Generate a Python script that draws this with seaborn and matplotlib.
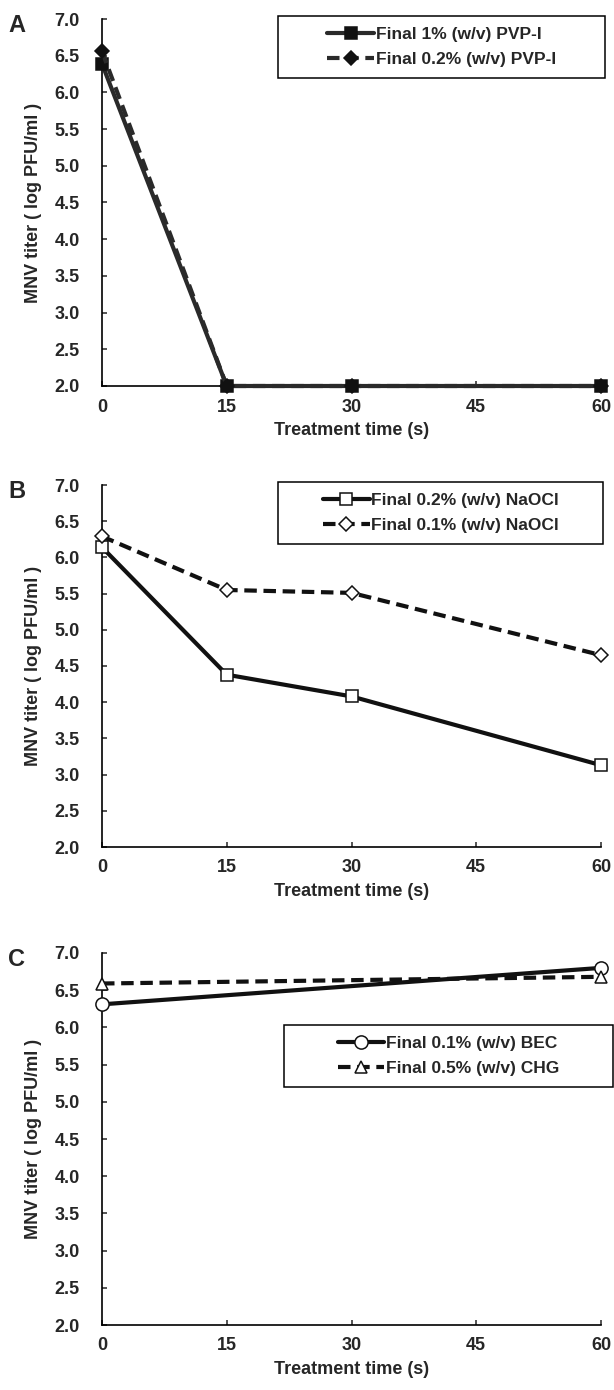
import matplotlib
matplotlib.use("Agg")
import matplotlib.pyplot as plt
from matplotlib.patches import Rectangle
import seaborn as sns

# values (log PFU/ml)
time_a = [0, 15, 30, 60]
pvp_1 = [6.39, 2.0, 2.0, 2.0]
pvp_02 = [6.56, 2.0, 2.0, 2.0]

time_b = [0, 15, 30, 60]
naocl_02 = [6.14, 4.38, 4.08, 3.13]
naocl_01 = [6.29, 5.55, 5.51, 4.65]

time_c = [0, 60]
bec_01 = [6.31, 6.80]
chg_05 = [6.59, 6.68]

x_ticks = [0, 15, 30, 45, 60]
y_ticks = [2.0, 2.5, 3.0, 3.5, 4.0, 4.5, 5.0, 5.5, 6.0, 6.5, 7.0]

sns.set_style("ticks")
plt.rcParams['font.family'] = ['Liberation Sans', 'DejaVu Sans']
plt.rcParams['font.weight'] = 'bold'

fig = plt.figure(figsize=(6.14, 13.9), dpi=100)
W, H = 614, 1390
left, right = 102, 601
dash = (0, (3, 1.6))

# (letter, top px, bottom px, times, series, legend box in axes fraction)
panels = [
    ("A", 19, 386, time_a,
     [(pvp_1, "Final 1% (w/v) PVP-I", "-", "s", "#111111", 8.5, "#2a2a2a"),
      (pvp_02, "Final 0.2% (w/v) PVP-I", dash, "D", "#111111", 7, "#2a2a2a")],
     (0.353, 0.839, 0.655, 0.169)),
    ("B", 485, 847, time_b,
     [(naocl_02, "Final 0.2% (w/v) NaOCl", "-", "s", "white", 9, "#111111"),
      (naocl_01, "Final 0.1% (w/v) NaOCl", dash, "D", "white", 7, "#111111")],
     (0.353, 0.836, 0.652, 0.172)),
    ("C", 953, 1325, time_c,
     [(bec_01, "Final 0.1% (w/v) BEC", "-", "o", "white", 9.5, "#111111"),
      (chg_05, "Final 0.5% (w/v) CHG", dash, "^", "white", 9, "#111111")],
     (0.365, 0.640, 0.659, 0.166)),
]

for letter, top, bottom, t, series, box in panels:
    ax = fig.add_axes([left / W, 1 - bottom / H, (right - left) / W, (bottom - top) / H])
    for vals, label, ls, mk, fc, ms, lc in series:
        sns.lineplot(x=t, y=vals, ax=ax, color=lc, linestyle=ls, linewidth=3.0,
                     marker=mk, markersize=ms, markerfacecolor=fc,
                     markeredgecolor="#111111", markeredgewidth=1.1,
                     label=label, clip_on=False, zorder=3)
    ax.set_xlim(0, 60)
    ax.set_ylim(2.0, 7.0)
    ax.set_xticks(x_ticks)
    ax.set_yticks(y_ticks)
    ax.set_yticklabels([f"{v:.1f}" for v in y_ticks])
    ax.tick_params(axis="both", direction="in", length=3.5, width=1.1, labelsize=13)
    ax.tick_params(axis="y", pad=16)
    ax.tick_params(axis="x", pad=9)
    for s in ["top", "right"]:
        ax.spines[s].set_visible(False)
    for s in ["left", "bottom"]:
        ax.spines[s].set_linewidth(1.2)
        ax.spines[s].set_color("black")
    ax.set_xlabel("Treatment time (s)", fontsize=13, fontweight="bold", labelpad=5)
    ax.set_ylabel("MNV titer ( log PFU/ml )", fontsize=13, fontweight="bold", labelpad=9)

    bx, by, bw, bh = box
    ax.add_patch(Rectangle((bx, by), bw, bh, transform=ax.transAxes, fill=True,
                           facecolor="white", edgecolor="black", linewidth=1.1,
                           clip_on=False, zorder=5))
    leg = ax.legend(loc="center", bbox_to_anchor=(bx + bw / 2, by + bh / 2),
                    fontsize=12.5, frameon=False, handlelength=2.7,
                    handletextpad=0.1, labelspacing=0.55, borderpad=0)
    leg.set_zorder(6)
    for txt in leg.get_texts():
        txt.set_fontweight("bold")

    fig.text(8 / W, 1 - (top + 6) / H, letter, fontsize=17, fontweight="bold",
             ha="left", va="center")

fig.savefig("out.png", dpi=100)
